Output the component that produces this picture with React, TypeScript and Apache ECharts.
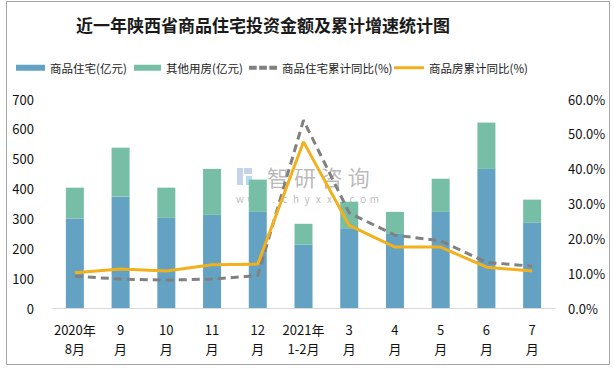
import React, { useEffect, useRef } from "react";
import * as echarts from "echarts";

const categories = ["2020年\n8月", "9\n月", "10\n月", "11\n月", "12\n月", "2021年\n1-2月", "3\n月", "4\n月", "5\n月", "6\n月", "7\n月"];
const residential = [300, 373, 302, 312, 322, 212, 267, 248, 322, 466, 286];
const otherHousing = [103, 164, 101, 154, 108, 70, 89, 74, 111, 155, 77];
const residentialYoY = [9.1, 8.3, 8.0, 8.3, 9.3, 53.9, 27.3, 20.9, 19.3, 13.1, 12.0];
const housingYoY = [10.1, 11.2, 10.6, 12.4, 12.6, 47.7, 23.7, 17.5, 17.5, 11.7, 10.6];
const leftTicks = [0, 700, 100];
const rightTicks = [0, 60, 10];
const seriesNames = ["商品住宅(亿元)", "其他用房(亿元)", "商品住宅累计同比(%)", "商品房累计同比(%)"];

const FONT = "'Noto Sans CJK SC', 'Noto Sans', sans-serif";
const BLUE = "#63a2c3";
const GREEN = "#76bea5";
const GREY = "#808080";
const YELLOW = "#f2b11c";

export default function App() {
  const ref = useRef<HTMLDivElement>(null);
  useEffect(() => {
    const chart = echarts.init(ref.current!, null, { renderer: "svg" });
    const legendBase = {
      top: 57,
      itemGap: 0,
      symbolKeepAspect: false,
      textStyle: { fontSize: 11.5, color: "#222", fontFamily: FONT },
    };
    const legendLefts = [11, 129, 244, 389];
    const legendIcons = [
      "rect",
      "rect",
      "path://M0,0h8v4h-8z M10.5,0h8v4h-8z M21,0h8v4h-8z",
      "rect",
    ];
    const legendHeights = [6, 6, 4, 3];
    const legendWidths = [29, 27, 28, 30];
    const url = "www.chyxx.com".split("");
    chart.setOption({
      animation: false,
      backgroundColor: "#ffffff",
      textStyle: { fontFamily: FONT },
      grid: { left: 52, right: 59, top: 99, bottom: 61 },
      legend: seriesNames.map((n, i) => ({
        ...legendBase,
        left: legendLefts[i],
        itemWidth: legendWidths[i],
        itemHeight: legendHeights[i],
        data: [{ name: n, icon: legendIcons[i] }],
      })),
      xAxis: {
        type: "category",
        data: categories,
        axisLine: { lineStyle: { color: "#d9d9d9", width: 1 } },
        axisTick: { show: false },
        axisLabel: { color: "#111", fontSize: 13, lineHeight: 19, margin: 12, interval: 0, fontFamily: FONT },
      },
      yAxis: [
        {
          type: "value",
          min: leftTicks[0],
          max: leftTicks[1],
          interval: leftTicks[2],
          splitLine: { show: false },
          axisLine: { show: false },
          axisTick: { show: false },
          axisLabel: { color: "#111", fontSize: 13, margin: 18, fontFamily: FONT },
        },
        {
          type: "value",
          min: rightTicks[0],
          max: rightTicks[1],
          interval: rightTicks[2],
          splitLine: { show: false },
          axisLine: { show: false },
          axisTick: { show: false },
          axisLabel: {
            color: "#111",
            fontSize: 13,
            margin: 13,
            fontFamily: FONT,
            formatter: (v: number) => v.toFixed(1) + "%",
          },
        },
      ],
      series: [
        {
          name: seriesNames[0],
          type: "bar",
          stack: "total",
          barWidth: 18,
          data: residential,
          itemStyle: { color: BLUE },
        },
        {
          name: seriesNames[1],
          type: "bar",
          stack: "total",
          barWidth: 18,
          data: otherHousing,
          itemStyle: { color: GREEN },
        },
        {
          name: seriesNames[2],
          type: "line",
          yAxisIndex: 1,
          data: residentialYoY,
          symbol: "none",
          itemStyle: { color: GREY },
          lineStyle: { color: GREY, width: 3, type: [8, 5] },
        },
        {
          name: seriesNames[3],
          type: "line",
          yAxisIndex: 1,
          data: housingYoY,
          symbol: "none",
          itemStyle: { color: YELLOW },
          lineStyle: { color: YELLOW, width: 3 },
        },
      ],
      graphic: [
        {
          type: "rect",
          shape: { x: 6.5, y: 1.5, width: 603, height: 363 },
          style: { fill: "none", stroke: "#a6a6a6", lineWidth: 1 },
          silent: true,
        },
        {
          type: "text",
          x: 263,
          y: 16,
          style: {
            text: "近一年陕西省商品住宅投资金额及累计增速统计图",
            fontSize: 17,
            fontWeight: "bold",
            fill: "#1a1a1a",
            fontFamily: FONT,
            textAlign: "center",
            textVerticalAlign: "top",
          },
        },
        {
          type: "group",
          z: 100,
          silent: true,
          children: [
            { type: "rect", shape: { x: 237, y: 168, width: 6, height: 17 }, style: { fill: "rgba(150,175,215,0.55)" } },
            { type: "rect", shape: { x: 244, y: 168, width: 8, height: 6 }, style: { fill: "rgba(150,175,215,0.55)" } },
            { type: "rect", shape: { x: 246, y: 176, width: 6, height: 9 }, style: { fill: "rgba(120,190,230,0.55)" } },
            {
              type: "text",
              x: 267,
              y: 165,
              style: { text: "智 研 咨 询", fontSize: 22, fill: "rgba(140,140,140,0.6)", fontFamily: FONT, textVerticalAlign: "top" },
            },
            ...url.map((c, i) => ({
              type: "text",
              x: 240 + i * 11.2,
              y: 193,
              style: { text: c, fontSize: 10, fill: "rgba(140,140,140,0.6)", fontFamily: FONT, textAlign: "center", textVerticalAlign: "top" },
            })),
          ],
        },
      ],
    });
    return () => chart.dispose();
  }, []);
  return <div ref={ref} style={{ position: "absolute", left: 0, top: 0, width: 614, height: 369 }} />;
}
